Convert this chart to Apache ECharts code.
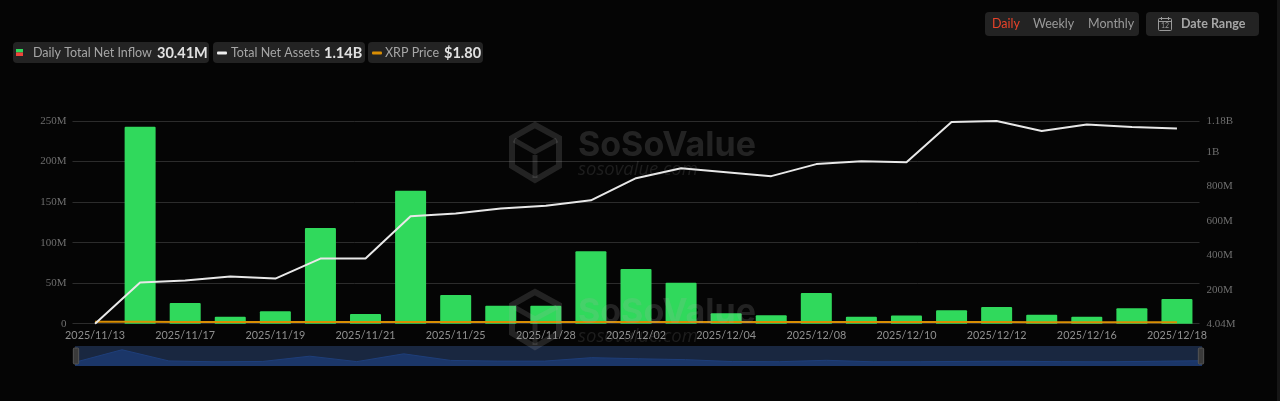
<!DOCTYPE html>
<html><head><meta charset="utf-8">
<style>html,body{margin:0;padding:0;background:#050505;overflow:hidden}#c{width:1280px;height:401px}</style>
<script src="https://cdn.jsdelivr.net/npm/echarts@6/dist/echarts.min.js"></script>
</head><body><div id="c"></div>
<script>
const categories = ['2025/11/13','2025/11/14','2025/11/17','2025/11/18','2025/11/19','2025/11/20','2025/11/21','2025/11/24','2025/11/25','2025/11/26','2025/11/28','2025/12/01','2025/12/02','2025/12/03','2025/12/04','2025/12/05','2025/12/08','2025/12/09','2025/12/10','2025/12/11','2025/12/12','2025/12/15','2025/12/16','2025/12/17','2025/12/18'];
const netInflow = [0,243,25.5,8.5,15.5,118,12,164,35.5,22,22,89.5,67.5,50.5,13,10.5,38,8.5,10,16.5,20.5,11,8.5,19,30.41];
const netAssets = [4.04,243,254,278,266,382,382,627,644,673,688,720,848,906,883,860,930,947,941,1174,1180,1122,1160,1145,1136];
const xrpPrice = [2.4,2.3,2.2,2.2,2.1,2.0,2.0,2.2,2.2,2.2,2.2,2.1,2.2,2.2,2.1,2.0,2.0,2.0,2.1,2.0,2.0,1.9,1.9,1.8,1.8];
const leftTicks = [0,50,100,150,200,250];
const rightTicks = [4.04,200,400,600,800,1000,1180];
const rightLabels = {4.04:'4.04M',200:'200M',400:'400M',600:'600M',800:'800M',1000:'1B',1180:'1.18B'};
const legendItems = [
  {name:'Daily Total Net Inflow',value:'30.41M'},
  {name:'Total Net Assets',value:'1.14B'},
  {name:'XRP Price',value:'$1.80'}];
const periods = ['Daily','Weekly','Monthly'];

const UI = 'Lato, "Open Sans", sans-serif';
const pill = (x,y,w,h)=>({type:'rect',shape:{x,y,width:w,height:h,r:4},style:{fill:'#232323'},z:1});
const txt = (x,y,text,fill,size,weight,extra)=>({type:'text',x,y,z:2,style:Object.assign({text,fill,font:`${weight||400} ${size}px ${UI}`,textVerticalAlign:'middle'},extra||{})});
const box = (x,y,w,h,fill,r)=>({type:'rect',shape:{x,y,width:w,height:h,r:r||0},style:{fill},z:2});

const wm = (ox,oy)=>{
  const c='rgba(170,170,170,0.18)';
  const hex=[[ox+23,oy],[ox+47,oy+13],[ox+47,oy+41],[ox+23,oy+55],[ox,oy+41],[ox,oy+13]];
  return [
    {type:'polygon',z:20,silent:true,shape:{points:hex},style:{fill:'none',stroke:c,lineWidth:6}},
    {type:'polyline',z:20,silent:true,shape:{points:[[ox+2,oy+15],[ox+23,oy+27],[ox+45,oy+15]]},style:{fill:'none',stroke:c,lineWidth:5}},
    {type:'polyline',z:20,silent:true,shape:{points:[[ox+23,oy+30],[ox+23,oy+53]]},style:{fill:'none',stroke:c,lineWidth:5}},
    {type:'text',z:20,silent:true,x:ox+66,y:oy+21,style:{text:'SoSoValue',fill:c,font:'700 34px Inter, sans-serif',textVerticalAlign:'middle'}},
    {type:'text',z:20,silent:true,x:ox+66,y:oy+45,style:{text:'sosovalue.com',fill:'rgba(170,170,170,0.15)',font:'italic 400 18.5px "Open Sans", sans-serif',textVerticalAlign:'middle'}}
  ];
};

const graphics = [
  {type:'rect',shape:{x:1277,y:0,width:3,height:401},style:{fill:'#161616'},z:0},
  pill(13,42,196,21),pill(213,42,152,21),pill(368,42,115,21),
  box(16,49,7,3.5,'#30d95c'),box(16,52.5,7,3.5,'#f0443a'),
  txt(33,53,legendItems[0].name,'#a6a6a6',12.5),txt(157,53,legendItems[0].value,'#e2e2e2',14.5,700),
  box(217,51.5,10,3,'#eeeeee',1),
  txt(231,53,legendItems[1].name,'#a6a6a6',12.5),txt(324,53,legendItems[1].value,'#e2e2e2',14.5,700),
  box(372,51.5,10,3,'#d98e04',1),
  txt(385,53,legendItems[2].name,'#a6a6a6',12.5),txt(444,53,legendItems[2].value,'#e2e2e2',14.5,700),
  pill(985,12,154,24),pill(1146,12,113,24),
  txt(992,24,periods[0],'#e8432a',12.5),txt(1033,24,periods[1],'#9a9a9a',12.5),txt(1088,24,periods[2],'#9a9a9a',12.5),
  {type:'rect',z:2,shape:{x:1158.5,y:18.5,width:13,height:12,r:1},style:{fill:'none',stroke:'#9a9a9a',lineWidth:1}},
  {type:'line',z:2,shape:{x1:1158.5,y1:21.5,x2:1171.5,y2:21.5},style:{stroke:'#9a9a9a',lineWidth:1}},
  {type:'line',z:2,shape:{x1:1161.5,y1:17,x2:1161.5,y2:20},style:{stroke:'#9a9a9a',lineWidth:1}},
  {type:'line',z:2,shape:{x1:1168.5,y1:17,x2:1168.5,y2:20},style:{stroke:'#9a9a9a',lineWidth:1}},
  {type:'text',z:2,x:1165,y:26,style:{text:'12',fill:'#9a9a9a',font:'400 7px '+UI,textAlign:'center',textVerticalAlign:'middle'}},
  txt(1181,24,'Date Range','#a6a6a6',12.5,700),
  ...wm(512,125),...wm(512,292)
];

const chart = echarts.init(document.getElementById('c'),null,{width:1280,height:401});
chart.setOption({
  animation:false,
  backgroundColor:'#050505',
  grid:{left:72.5,right:80.5,top:121,bottom:77.3,containLabel:false},
  xAxis:{type:'category',data:categories,boundaryGap:true,
    axisLine:{show:false},axisTick:{show:false},
    axisLabel:{interval:1,color:'#8f8f8f',fontSize:10.8,fontFamily:'Lato, sans-serif',margin:6,hideOverlap:false,showMinLabel:true,showMaxLabel:true}},
  yAxis:[
    {type:'value',min:0,max:250,interval:50,position:'left',
      axisLine:{show:false},axisTick:{show:false},
      splitLine:{show:true,lineStyle:{color:'#2c2c2c',width:1}},
      axisLabel:{color:'#6f6f6f',fontSize:11,fontFamily:'"Liberation Serif", serif',margin:6,
        customValues:leftTicks,formatter:v=>v===0?'0':v+'M'}},
    {type:'value',min:4.04,max:1180,position:'right',
      axisLine:{show:false},axisTick:{show:false},splitLine:{show:false},
      axisLabel:{color:'#6f6f6f',fontSize:11,fontFamily:'"Liberation Serif", serif',margin:7,
        customValues:rightTicks,formatter:v=>rightLabels[v]||''}}
  ],
  dataZoom:[{type:'slider',xAxisIndex:0,left:72.5,right:80.5,top:346,height:20,start:0,end:100,
    showDetail:false,brushSelect:false,showDataShadow:true,moveHandleSize:0,
    backgroundColor:'#1a2740',borderColor:'transparent',fillerColor:'rgba(26,39,64,0.2)',
    dataBackground:{lineStyle:{color:'#1f4488',width:1,opacity:1},areaStyle:{color:'#1c3a72',opacity:1}},
    selectedDataBackground:{lineStyle:{color:'#1f4488',width:1,opacity:1},areaStyle:{color:'#1c3a72',opacity:1}},
    handleIcon:'path://M2,0 L8,0 Q10,0 10,2 L10,28 Q10,30 8,30 L2,30 Q0,30 0,28 L0,2 Q0,0 2,0 Z',
    handleSize:'80%',handleStyle:{color:'#3a3a3a',borderColor:'#555',borderWidth:1}
  }],
  series:[
    {name:legendItems[0].name,type:'bar',yAxisIndex:0,data:netInflow,barWidth:31,z:2,
      itemStyle:{color:'#30d95c',borderRadius:[1,1,0,0]}},
    {name:legendItems[1].name,type:'line',yAxisIndex:1,data:netAssets,showSymbol:false,smooth:false,z:4,
      lineStyle:{color:'#e8e8e8',width:2},itemStyle:{color:'#e8e8e8'}},
    {name:legendItems[2].name,type:'line',yAxisIndex:0,data:xrpPrice,showSymbol:false,smooth:false,z:3,
      lineStyle:{color:'#d98e04',width:2},itemStyle:{color:'#d98e04'}}
  ],
  graphic:{elements:graphics}
});
</script></body></html>
